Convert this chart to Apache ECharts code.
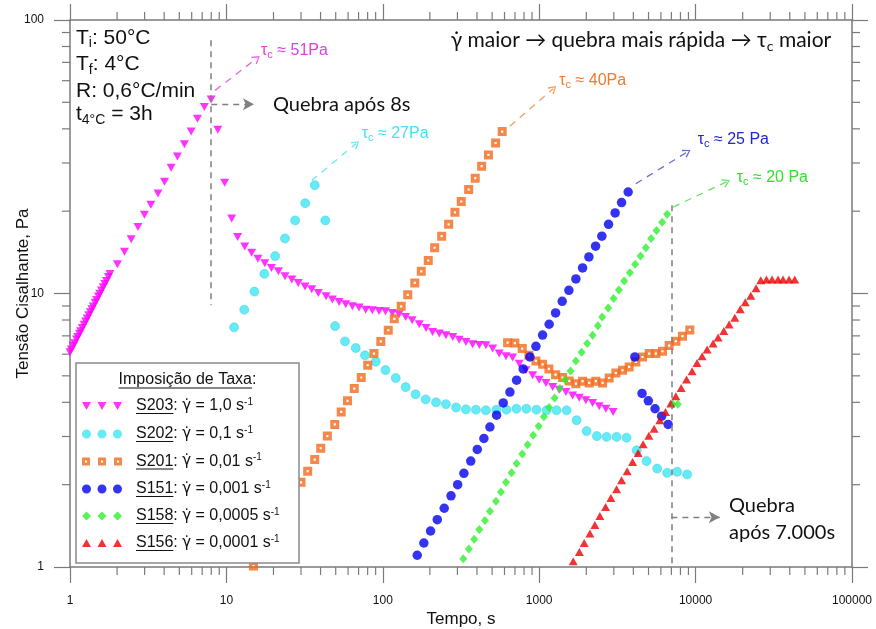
<!DOCTYPE html>
<html><head><meta charset="utf-8">
<script src="https://cdn.jsdelivr.net/npm/echarts@6/dist/echarts.min.js"></script>
<style>html,body{margin:0;padding:0;background:#fff}#c{width:876px;height:629px}</style>
</head><body><div id="c"></div>
<script>
// ---------------- DATA ----------------
const xTickValues = [1, 10, 100, 1000, 10000, 100000];
const yTickValues = [1, 10, 100];
const xMinorTicks = [2,3,4,5,6,7,8,9,20,30,40,50,60,70,80,90,200,300,400,500,600,700,800,900,
  2000,3000,4000,5000,6000,7000,8000,9000,20000,30000,40000,50000,60000,70000,80000,90000];
const yMinorTicks = [2,3,4,5,6,7,8,9,20,30,40,50,60,70,80,90];
const seriesNames = ['S203', 'S202', 'S201', 'S151', 'S158', 'S156'];
const shearRates = ['1,0', '0,1', '0,01', '0,001', '0,0005', '0,0001'];

const s203X = [1.00,1.02,1.05,1.07,1.10,1.12,1.15,1.17,1.20,1.23,1.26,1.29,1.32,1.35,1.38,1.41,1.45,1.48,1.52,1.55,1.59,1.63,1.67,1.71,1.76,1.80,
  2.01,2.23,2.46,2.72,2.99,3.29,3.65,4.02,4.43,4.86,5.39,5.95,6.53,7.23,7.99,
  8.81,9.74,10.8,11.8,13.1,14.5,15.9,17.6,19.4,21.5,23.7,26.2,28.8,31.8,35.1,38.7,43.4,47.6,52.5,57.9,
  63.9,70.5,77.7,85.7,94.6,104,115,127,140,154,171,189,208,230,253,280,308,340,375,414,
  456,504,555,613,676,745,822,908,1000,1104,1218,1342,1481,1635,1802,1988,2194,2418,2669,2970];
const s203Y = [6.10,6.24,6.44,6.58,6.79,6.93,7.13,7.27,7.48,7.69,7.90,8.11,8.33,8.54,8.75,8.96,9.25,9.46,9.75,9.97,10.25,10.54,10.83,11.12,11.49,11.78,
  12.8,14.2,15.8,17.5,19.4,21.1,23.2,25.6,28.8,31.7,35.1,39.1,43.5,48.1,51.2,
  39.7,25.4,18.8,16.1,14.85,14.1,13.4,12.9,12.4,12.05,11.56,11.24,10.93,10.6,10.36,10.04,9.77,9.50,9.31,9.13,
  8.98,8.88,8.73,8.68,8.63,8.61,8.49,8.39,8.21,7.98,7.72,7.48,7.23,7.14,7.03,6.93,6.78,6.65,6.52,6.48,
  6.47,6.29,6.03,5.89,5.83,5.54,5.24,5.02,4.84,4.71,4.55,4.45,4.36,4.24,4.16,4.07,3.98,3.87,3.79,3.69];

const s202X = [11.2,13.0,15.1,17.5,20.5,23.7,27.5,31.9,36.7,
  42.9,49.5,57.3,67.1,76.9,90.1,104,121,140,162,188,219,253,294,340,394,456,533,617,715,
  828,960,1115,1292,1497,1734,2009,2337,2697,3124,3619,4193,4857,5675,6575,7617,8825];
const s202Y = [7.52,8.73,10.16,11.8,13.7,15.9,18.5,21.4,24.9,
  18.5,7.60,6.68,6.32,5.94,5.63,5.25,4.91,4.55,4.28,4.10,4.00,3.94,3.83,3.77,3.76,3.74,3.76,3.76,3.79,
  3.79,3.76,3.74,3.74,3.74,3.44,3.14,3.01,2.99,2.99,2.97,2.67,2.44,2.29,2.21,2.23,2.18];

const s201X = [14.9,30.0,33.1,36.7,40.1,44.2,49.3,54.2,59.5,65.7,72.8,80.1,87.8,97.1,108.4,118.4,131.1,144.4,160.2,176.2,
  195.3,214.6,237.9,263.7,289.3,317.4,353.9,390,428.5,473.6,526.5,580,
  628,699,779,859,953,1051,1153,1273,1411,1555,1716,1894,2087,2303,2542,2801,3091,3411,3760,4148,
  4579,5046,5568,6144,6772,7472,8249,9183];
const s201Y = [1.008,2.04,2.24,2.47,2.72,3.01,3.32,3.69,4.05,4.49,4.93,5.47,6.03,6.68,7.34,8.08,8.98,9.89,10.93,12.05,
  13.2,14.7,16.2,17.9,19.8,21.7,24.0,26.4,29.2,32.1,35.5,39.1,
  6.61,6.59,6.29,5.94,5.67,5.51,5.30,5.05,4.93,4.79,4.68,4.78,4.71,4.78,4.71,4.91,5.12,5.24,5.39,5.62,
  5.86,6.03,6.03,6.15,6.45,6.69,6.98,7.36];

const s151X = [166,183,202,223,247,273,301,330,365,402,443,484,534,589,650,717,790,872,953,1051,
  1158,1273,1403,1548,1716,1894,2078,2293,2515,2776,3059,3362,3705,
  4088,4545,4986,5504,6063,6674];
const s151Y = [1.104,1.224,1.354,1.49,1.64,1.82,2.00,2.20,2.44,2.69,2.95,3.25,3.59,3.98,4.36,4.82,5.30,5.86,6.41,7.05,
  7.72,8.49,9.36,10.27,11.3,12.4,13.6,14.9,16.2,17.9,19.7,21.5,23.5,
  5.86,4.31,4.05,3.79,3.56,3.32];

const s158X = [327,355,384,414,450,484,529,569,613,666,717,779,843,915,991,1072,1158,1254,1356,1466,
  1587,1716,1866,2026,2194,2372,2527,2760,2989,3231,3493,3798,4106,4446,4808,5196,5626,6108,6575,
  7150,7696];
const s158Y = [1.073,1.164,1.263,1.37,1.48,1.60,1.74,1.88,2.04,2.21,2.39,2.59,2.80,3.03,3.27,3.54,3.83,4.15,4.49,4.84,
  5.21,5.67,6.10,6.56,7.03,7.63,8.21,8.85,9.58,10.3,11.1,11.9,12.8,13.7,14.7,15.9,17.0,18.2,19.5,
  3.94,3.94];

const s156X = [1650,1807,1939,2109,2269,2443,2657,2872,3124,3362,3650,3953,4291,4618,5023,5429,5905,6422,6942,7472,
  8077,8748,9498,10207,11003,11845,12937,13925,15143,16370,17805,19300,20780,22530,24360,26100,
  28380,30830,33670,36240,39580,43040];
const s156Y = [1.049,1.135,1.224,1.325,1.424,1.536,1.657,1.787,1.923,2.075,2.238,2.42,2.61,2.81,3.02,3.20,3.44,3.69,3.96,4.21,
  4.51,4.85,5.20,5.57,5.89,6.24,6.56,6.90,7.29,7.70,8.16,8.76,9.29,9.81,10.45,11.17,
  11.24,11.24,11.24,11.24,11.24,11.24];

const breakTime8s = 8, breakTime7000s = 7000;

// ---------------- CHART ----------------
const ARIAL = '"Liberation Sans", Arial, sans-serif';
const CALIBRI = 'Lato, "Open Sans", sans-serif';
const axisColor = '#7a7a7a';
const pairs = (xs, ys) => xs.map((x, i) => [x, ys[i]]);
const xMin = xTickValues[0], xMax = xTickValues[xTickValues.length - 1];
const yMin = yTickValues[0], yMax = yTickValues[yTickValues.length - 1];
const MAJOR_LEN = 16, MINOR_LEN = 8;

const mctx = document.createElement('canvas').getContext('2d');
function textW(str, font) { mctx.font = font; return mctx.measureText(str).width; }

function logAxis(extra) {
  return Object.assign({
    type: 'log', logBase: 10,
    nameMoveOverlap: false,
    axisLine: { show: true, onZero: false, lineStyle: { color: axisColor, width: 1.5 } },
    axisTick: { show: true, inside: false, length: MAJOR_LEN, lineStyle: { color: axisColor, width: 1.2 } },
    minorTick: { show: false },
    splitLine: { show: false }, minorSplitLine: { show: false }
  }, extra);
}

const icons = {
  triDown: 'path://M0,0L9,0L4.5,8Z M15.5,0L24.5,0L20,8Z M31,0L40,0L35.5,8Z',
  circles: 'path://M0,4.5A4.5,4.5,0,1,0,9,4.5A4.5,4.5,0,1,0,0,4.5Z M15.5,4.5A4.5,4.5,0,1,0,24.5,4.5A4.5,4.5,0,1,0,15.5,4.5Z M31,4.5A4.5,4.5,0,1,0,40,4.5A4.5,4.5,0,1,0,31,4.5Z',
  squares: 'path://M0,0H8V8H0Z M3,3V5H5V3Z M16,0H24V8H16Z M19,3V5H21V3Z M32,0H40V8H32Z M35,3V5H37V3Z',
  diamonds: 'path://M4.5,0L9,4.5L4.5,9L0,4.5Z M20,0L24.5,4.5L20,9L15.5,4.5Z M35.5,0L40,4.5L35.5,9L31,4.5Z',
  triUp: 'path://M4.5,0L9,8L0,8Z M20,0L24.5,8L15.5,8Z M35.5,0L40,8L31,8Z'
};
const hollowSquare = 'path://M0,0H9V9H0Z M3.4,3.4V5.6H5.6V3.4Z';
const legendIcons = [icons.triDown, icons.circles, icons.squares, icons.circles, icons.diamonds, icons.triUp];
const colors = ['#ff00ff', '#3fe6f3', '#f26a1c', '#0000ee', '#2ef02e', '#ee0000'];

const seriesStyles = [
  { symbol: 'triangle', symbolRotate: 180, symbolSize: [9, 8], itemStyle: { color: colors[0] } },
  { symbol: 'circle', symbolSize: 9, itemStyle: { color: colors[1], borderColor: '#2fcfe0', borderWidth: 0.6 } },
  { symbol: hollowSquare, symbolSize: 9, itemStyle: { color: colors[2] } },
  { symbol: 'circle', symbolSize: 9.5, itemStyle: { color: colors[3] } },
  { symbol: 'diamond', symbolSize: [8, 9], itemStyle: { color: colors[4] } },
  { symbol: 'triangle', symbolSize: [9, 8], itemStyle: { color: colors[5] } }
];
const dataSets = [pairs(s203X, s203Y), pairs(s202X, s202Y), pairs(s201X, s201Y),
                  pairs(s151X, s151Y), pairs(s158X, s158Y), pairs(s156X, s156Y)];

const series = seriesNames.map((n, i) => Object.assign({
  type: 'scatter', name: n, data: dataSets[i], z: 2, silent: true, clip: false
}, seriesStyles[i]));

// minor ticks on all four sides (log positions via the axes)
const tickStyle = { stroke: axisColor, lineWidth: 1.2 };
series.push({
  type: 'custom', name: 'xMinor', coordinateSystem: 'cartesian2d', silent: true, clip: false, z: 1,
  data: xMinorTicks.map(v => [v, yMin]),
  renderItem: (params, api) => {
    const b = api.coord([api.value(0), yMin]);
    const t = api.coord([api.value(0), yMax]);
    return { type: 'group', children: [
      { type: 'line', shape: { x1: b[0], y1: b[1], x2: b[0], y2: b[1] + MINOR_LEN }, style: tickStyle },
      { type: 'line', shape: { x1: t[0], y1: t[1], x2: t[0], y2: t[1] - MINOR_LEN }, style: tickStyle }
    ] };
  }
});
series.push({
  type: 'custom', name: 'yMinor', coordinateSystem: 'cartesian2d', silent: true, clip: false, z: 1,
  data: yMinorTicks.map(v => [xMin, v]),
  renderItem: (params, api) => {
    const l = api.coord([xMin, api.value(1)]);
    const r = api.coord([xMax, api.value(1)]);
    return { type: 'group', children: [
      { type: 'line', shape: { x1: l[0], y1: l[1], x2: l[0] - MINOR_LEN, y2: l[1] }, style: tickStyle },
      { type: 'line', shape: { x1: r[0], y1: r[1], x2: r[0] + MINOR_LEN, y2: r[1] }, style: tickStyle }
    ] };
  }
});

// dashed annotation arrows (in data coordinates)
const chevron = 'path://M5,0L10,8L8.8,9L5,2.4L1.2,9L0,8Z';
const gray = '#7f7f7f';
function arrowLine(from, to, color, head, size, dash) {
  return [
    { coord: from, symbol: 'none' },
    { coord: to, symbol: head, symbolSize: size,
      lineStyle: { color: color, type: dash, width: 1.3 }, itemStyle: { color: color } }
  ];
}
const markData = [
  [{ coord: [breakTime8s, 84.3], symbol: 'none' }, { coord: [breakTime8s, 9.05], symbol: 'none', lineStyle: { color: gray, type: [6, 5], width: 1.5 } }],
  arrowLine([breakTime8s, 49.2], [15.0, 49.2], gray, 'arrow', [9, 11], [6, 5]),
  [{ coord: [breakTime7000s, 21.0], symbol: 'none' }, { coord: [breakTime7000s, 1], symbol: 'none', lineStyle: { color: gray, type: [6, 5], width: 1.5 } }],
  arrowLine([breakTime7000s, 1.52], [14280, 1.52], gray, 'arrow', [9, 11], [6, 5]),
  arrowLine([8.47, 55.3], [15.6, 72.3], '#e666e6', chevron, [9, 8], [7, 6]),
  arrowLine([35.1, 25.9], [67.4, 35.3], '#66eaf4', chevron, [9, 8], [7, 6]),
  arrowLine([650, 40.9], [1229, 56.1], '#f0a060', chevron, [9, 8], [7, 6]),
  arrowLine([4148, 25.2], [8825, 32.9], '#6a6ad6', chevron, [9, 8], [7, 6]),
  arrowLine([7180, 20.7], [15750, 25.6], '#66e666', chevron, [9, 8], [7, 6])
];
series.push({
  type: 'scatter', name: 'annot', data: [], silent: true, z: 3,
  markLine: { silent: true, animation: false, label: { show: false }, symbol: ['none', 'none'],
              emphasis: { disabled: true }, data: markData }
});

// ---------- legend (one legend per row for exact placement) ----------
const legendLeft = 82;
const rowCenters = [406, 434, 461.5, 489, 516, 543];
const legFont = '16px ' + ARIAL;
const legends = seriesNames.map((n, i) => ({
  show: true, orient: 'vertical', left: legendLeft, top: rowCenters[i] - 9, padding: 0, z: 10,
  selectedMode: false, itemWidth: 40, itemHeight: (i === 1 || i === 3 || i === 4) ? 9 : 8,
  data: [{ name: n, icon: legendIcons[i] }],
  itemStyle: { color: colors[i], borderWidth: 0 },
  formatter: name => `{sp| }{u|${name}}{n|: }{g|γ̇}{n| = ${shearRates[i]} s}{sup|-1}`,
  textStyle: {
    rich: {
      sp: { width: 9, fontSize: 16, lineHeight: 18 },
      u: { fontSize: 16, fontFamily: ARIAL, color: '#111', lineHeight: 18 },
      n: { fontSize: 16, fontFamily: ARIAL, color: '#111', lineHeight: 18 },
      g: { fontSize: 15, fontFamily: '"DejaVu Sans"', color: '#111', lineHeight: 18 },
      sup: { fontSize: 10, fontFamily: ARIAL, color: '#111', lineHeight: 10, verticalAlign: 'top' }
    }
  }
}));

// ---------- graphic texts / legend box ----------
function rt(x, y, text, rich, fill, z, align) {
  return { type: 'text', x: x, y: y, z: z || 5, silent: true,
    style: { text: text, rich: rich, fill: fill, align: align || 'left', verticalAlign: 'middle',
             textAlign: align || 'left', textVerticalAlign: 'middle' } };
}
const tlRich = {
  m: { fontSize: 21, fontFamily: ARIAL, fill: '#111', lineHeight: 25, verticalAlign: 'middle' },
  s: { fontSize: 14, fontFamily: ARIAL, fill: '#111', lineHeight: 14, verticalAlign: 'bottom' }
};
function tauRich(color) {
  return {
    m: { fontSize: 16, fontFamily: ARIAL, fill: color, lineHeight: 20, verticalAlign: 'middle' },
    s: { fontSize: 11, fontFamily: ARIAL, fill: color, lineHeight: 11, verticalAlign: 'bottom' }
  };
}
function calRich(size) {
  return {
    m: { fontSize: size, fontFamily: CALIBRI, fill: '#111', lineHeight: size + 4, verticalAlign: 'middle' },
    s: { fontSize: Math.round(size * 0.65), fontFamily: CALIBRI, fill: '#111', lineHeight: Math.round(size * 0.65), verticalAlign: 'bottom' }
  };
}

const boxX = 76, boxY = 363, boxW = 223, boxH = 200;
const titleCx = boxX + boxW / 2, titleCy = 380;
const titleMain = 'Imposição de Taxa';
const titleW = textW(titleMain, legFont), titleTotalW = textW(titleMain + ':', legFont);
const underlineY = rowCenters.map(c => c + 7.5);
const textStartX = legendLeft + 40 + 5 + 9;

const graphics = [
  { type: 'rect', z: 3, silent: true, shape: { x: boxX, y: boxY, width: boxW, height: boxH },
    style: { fill: '#ffffff', stroke: '#8a8a8a', lineWidth: 1.5 } },
  rt(titleCx, titleCy, '{m|' + titleMain + ':}', { m: { fontSize: 16, fontFamily: ARIAL, fill: '#111' } }, '#111', 6, 'center'),
  { type: 'line', z: 6, silent: true, shape: { x1: titleCx - titleTotalW / 2, y1: titleCy + 8, x2: titleCx - titleTotalW / 2 + titleW, y2: titleCy + 8 },
    style: { stroke: '#111', lineWidth: 1 } }
];
seriesNames.forEach((n, i) => {
  const w = textW(n, legFont);
  graphics.push({ type: 'line', z: 11, silent: true,
    shape: { x1: textStartX, y1: underlineY[i], x2: textStartX + w, y2: underlineY[i] },
    style: { stroke: '#111', lineWidth: 1 } });
});
graphics.push(rt(76, 38, '{m|T}{s|i}{m|: 50°C}', tlRich, '#111'));
graphics.push(rt(76, 64.7, '{m|T}{s|f}{m|: 4°C}', tlRich, '#111'));
graphics.push(rt(76, 91.3, '{m|R: 0,6°C/min}', tlRich, '#111'));
graphics.push(rt(76, 114.7, '{m|t}{s|4°C}{m| = 3h}', tlRich, '#111'));
graphics.push(rt(273, 104.5, '{m|Quebra após 8s}', calRich(20), '#111'));
graphics.push(rt(729, 506, '{m|Quebra}', calRich(20), '#111'));
graphics.push(rt(729, 532.7, '{m|após 7.000s}', calRich(20), '#111'));
graphics.push(rt(450.7, 40.7, '{m|γ̇ maior → quebra mais rápida → τ}{s|c}{m| maior}', calRich(21), '#111'));
graphics.push(rt(261, 50.5, '{m|τ}{s|c}{m| ≈ 51Pa}', tauRich('#e23ee2'), '#e23ee2'));
graphics.push(rt(361.7, 133.3, '{m|τ}{s|c}{m| ≈ 27Pa}', tauRich('#3fe3f0'), '#3fe3f0'));
graphics.push(rt(559.3, 80.5, '{m|τ}{s|c}{m| ≈ 40Pa}', tauRich('#ee7a2c'), '#ee7a2c'));
graphics.push(rt(697.7, 139.7, '{m|τ}{s|c}{m| ≈ 25 Pa}', tauRich('#2424d0'), '#2424d0'));
graphics.push(rt(736.7, 177.5, '{m|τ}{s|c}{m| ≈ 20 Pa}', tauRich('#2fe02f'), '#2fe02f'));

const chart = echarts.init(document.getElementById('c'), null, { renderer: 'canvas' });
const fmt = v => String(Math.round(v));
chart.setOption({
  animation: false,
  backgroundColor: '#ffffff',
  grid: { left: 70, right: 24, top: 20, bottom: 62, containLabel: false, outerBoundsMode: 'none' },
  xAxis: [
    logAxis({ position: 'bottom', min: xMin, max: xMax,
      name: 'Tempo, s', nameLocation: 'middle', nameGap: 44,
      nameTextStyle: { fontSize: 17, fontFamily: ARIAL, color: '#111' },
      axisLabel: { show: true, fontSize: 12, fontFamily: ARIAL, color: '#111', margin: 28, formatter: fmt } }),
    logAxis({ position: 'top', min: xMin, max: xMax, axisLabel: { show: false } })
  ],
  yAxis: [
    logAxis({ position: 'left', min: yMin, max: yMax,
      name: 'Tensão Cisalhante, Pa', nameLocation: 'middle', nameGap: 38,
      nameTextStyle: { fontSize: 17, fontFamily: ARIAL, color: '#111' },
      axisLabel: { show: true, fontSize: 12, fontFamily: ARIAL, color: '#111', margin: 26, formatter: fmt } }),
    logAxis({ position: 'right', min: yMin, max: yMax, axisLabel: { show: false } })
  ],
  legend: legends,
  graphic: { elements: graphics },
  series: series
});
</script>
</body></html>
